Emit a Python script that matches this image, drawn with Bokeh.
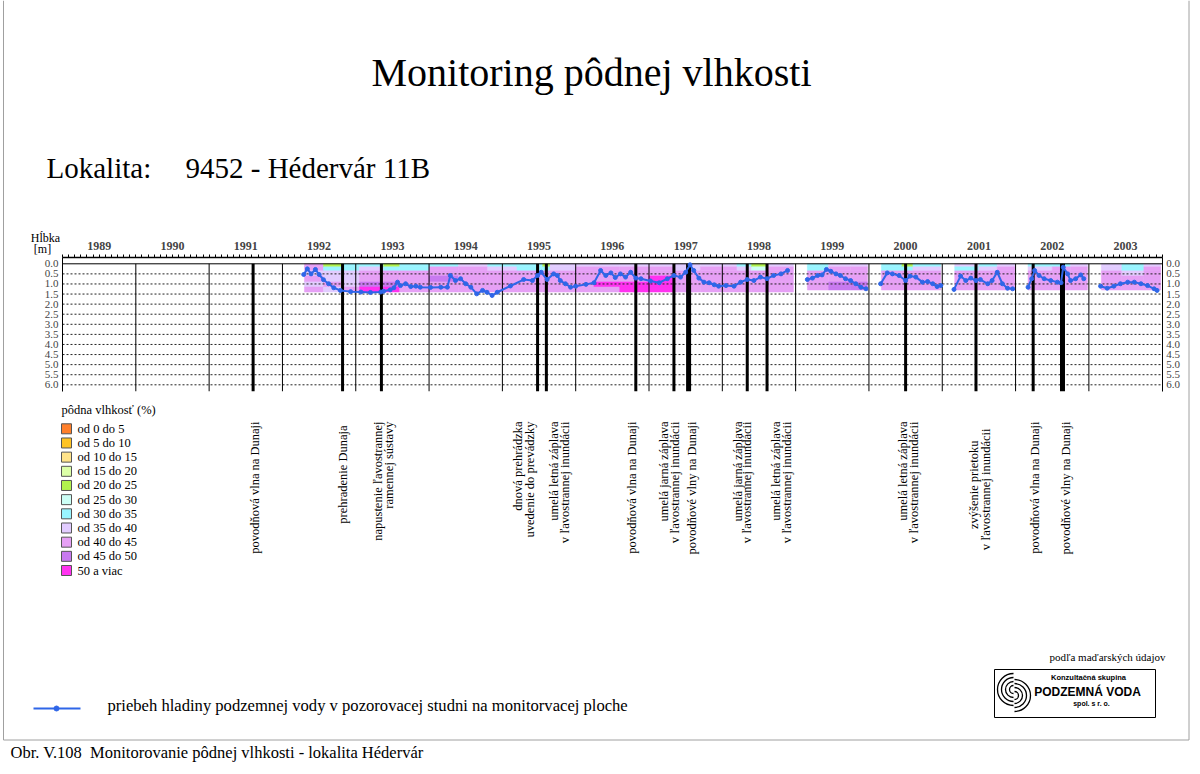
import math
from bokeh.plotting import figure
from bokeh.models import Range1d, LinearAxis, FixedTicker, CustomJSTickFormatter, PrintfTickFormatter
from bokeh.embed import file_html
from bokeh.resources import INLINE
from bokeh.core.properties import value

NaN = float("nan")

# ---------------- data ----------------
years = list(range(1989, 2004))
depth_ticks = [0.0, 0.5, 1.0, 1.5, 2.0, 2.5, 3.0, 3.5, 4.0, 4.5, 5.0, 5.5, 6.0]

moisture_labels = ["od 0 do 5", "od 5 do 10", "od 10 do 15", "od 15 do 20", "od 20 do 25",
                   "od 25 do 30", "od 30 do 35", "od 35 do 40", "od 40 do 45", "od 45 do 50",
                   "50 a viac"]
moisture_colors = ["#FF7F2A", "#FFC425", "#FFE38A", "#DCFFA8", "#B2F24E",
                   "#CCFFF6", "#99F5FF", "#E2CCFF", "#E6A0F5", "#C87AF0", "#FF33F0"]

# soil moisture profile: depth layer tops [m], measurement periods and class per layer
soil_layer_tops = [0.0, 0.15, 0.35, 0.6, 0.9, 1.15]
soil_col_start = [1992.30, 1992.56, 1992.82, 1993.05, 1993.38, 1993.60, 1994.00, 1994.40,
                  1994.80, 1995.20, 1995.55, 1995.65, 1996.00, 1996.25, 1996.60, 1997.00,
                  1997.35, 1997.70, 1998.20, 1998.40, 1998.60,
                  1999.16, 1999.45, 1999.75, 2000.17, 2000.45, 2000.60,
                  2001.17, 2001.50, 2001.75, 2002.17, 2002.50, 2002.75,
                  2003.17, 2003.45, 2003.75]
soil_col_end = [1992.56, 1992.82, 1993.05, 1993.38, 1993.60, 1994.00, 1994.40, 1994.80,
                1995.20, 1995.55, 1995.65, 1996.00, 1996.25, 1996.60, 1997.00, 1997.35,
                1997.70, 1998.20, 1998.40, 1998.60, 1998.97,
                1999.45, 1999.75, 1999.98, 2000.45, 2000.60, 2000.98,
                2001.50, 2001.75, 2001.99, 2002.50, 2002.75, 2002.98,
                2003.45, 2003.75, 2003.98]
soil_col_bottom = [1.4] * 21 + [1.3] * 15
soil_classes = [
    [8, 8, 7, 8, 7, 8], [4, 6, 7, 7, 8, 7], [6, 6, 7, 7, 7, 8], [6, 7, 8, 8, 9, 10],
    [4, 6, 8, 8, 9, 10], [6, 6, 8, 8, 8, 8], [6, 8, 8, 9, 8, 8], [7, 8, 8, 8, 8, 8],
    [6, 7, 8, 8, 8, 8], [6, 6, 8, 8, 8, 8], [4, 6, 8, 8, 8, 8], [7, 7, 8, 8, 8, 8],
    [7, 8, 8, 8, 8, 8], [7, 8, 8, 8, 10, 8], [7, 8, 8, 8, 10, 10], [7, 8, 8, 10, 10, 10],
    [7, 7, 8, 8, 8, 8], [7, 8, 8, 8, 8, 8], [6, 7, 8, 8, 8, 8], [4, 5, 8, 8, 8, 8],
    [7, 8, 8, 8, 8, 8],
    [6, 6, 8, 8, 8, 8], [7, 8, 8, 8, 9, 9], [7, 8, 8, 8, 9, 9],
    [6, 6, 8, 8, 8, 8], [4, 6, 8, 8, 8, 8], [6, 7, 8, 8, 8, 8],
    [7, 6, 8, 8, 8, 8], [6, 7, 8, 8, 8, 8], [7, 8, 8, 8, 8, 8],
    [6, 7, 8, 8, 8, 8], [6, 8, 8, 8, 8, 8], [7, 8, 8, 8, 8, 8],
    [7, 7, 8, 8, 8, 8], [6, 6, 7, 8, 8, 8], [7, 8, 8, 8, 8, 8],
]

# groundwater level depth [m] (NaN separates measurement seasons)
gw_year = [1992.29, 1992.34, 1992.39, 1992.45, 1992.50, 1992.56, 1992.63, 1992.70, 1992.79,
           1992.93, 1993.07, 1993.20, 1993.34, 1993.38, 1993.47, 1993.52, 1993.57, 1993.61,
           1993.68, 1993.75, 1993.82, 1993.88, 1994.02, 1994.16, 1994.25, 1994.29, 1994.36,
           1994.43, 1994.50, 1994.57, 1994.65, 1994.73, 1994.79, 1994.86, 1994.93, 1995.11,
           1995.29, 1995.41, 1995.48, 1995.53, 1995.61, 1995.70, 1995.75, 1995.79, 1995.86,
           1995.93, 1996.00, 1996.14, 1996.25, 1996.34, 1996.41, 1996.48, 1996.54, 1996.61,
           1996.68, 1996.75, 1996.82, 1996.89, 1997.02, 1997.14, 1997.25, 1997.34, 1997.43,
           1997.50, 1997.56, 1997.61, 1997.68, 1997.75, 1997.82, 1997.89, 1997.95, 1998.05,
           1998.16, 1998.25, 1998.34, 1998.43, 1998.52, 1998.61, 1998.70, 1998.80, 1998.89,
           NaN,
           1999.16, 1999.23, 1999.30, 1999.36, 1999.42, 1999.48, 1999.55, 1999.61, 1999.68,
           1999.75, 1999.82, 1999.89, 1999.96,
           NaN,
           2000.16, 2000.25, 2000.32, 2000.41, 2000.50, 2000.56, 2000.64, 2000.73, 2000.80,
           2000.87, 2000.93, 2000.98,
           NaN,
           2001.16, 2001.25, 2001.32, 2001.39, 2001.46, 2001.52, 2001.62, 2001.68, 2001.75,
           2001.82, 2001.89, 2001.96,
           NaN,
           2002.17, 2002.22, 2002.26, 2002.32, 2002.39, 2002.48, 2002.57, 2002.62, 2002.65,
           2002.71, 2002.75, 2002.82, 2002.89, 2002.93,
           NaN,
           2003.16, 2003.25, 2003.34, 2003.43, 2003.53, 2003.62, 2003.71, 2003.80, 2003.89,
           2003.93]
gw_depth = [0.53, 0.25, 0.50, 0.28, 0.53, 0.79, 0.99, 1.19, 1.32,
            1.38, 1.40, 1.42, 1.40, 1.36, 1.29, 1.19, 0.91, 1.08,
            0.99, 1.13, 1.11, 1.16, 1.17, 1.16, 1.16, 0.58, 0.83,
            0.74, 0.99, 1.16, 1.49, 1.32, 1.41, 1.57, 1.41, 1.10,
            0.78, 0.83, 0.58, 0.42, 0.78, 0.50, 0.58, 0.83, 0.99,
            1.16, 1.11, 1.02, 0.94, 0.33, 0.58, 0.45, 0.68, 0.50,
            0.66, 0.42, 0.71, 0.74, 0.85, 0.94, 0.74, 0.58, 0.66,
            0.42, 0.05, 0.33, 0.71, 0.91, 0.94, 1.04, 1.11, 1.08,
            1.11, 0.91, 0.78, 0.83, 0.66, 0.74, 0.58, 0.50, 0.33,
            NaN,
            0.78, 0.71, 0.58, 0.55, 0.28, 0.37, 0.50, 0.58, 0.74,
            0.83, 0.99, 1.16, 1.24,
            NaN,
            0.99, 0.45, 0.50, 0.58, 0.83, 0.61, 0.66, 0.91, 0.88,
            0.99, 1.13, 1.08,
            NaN,
            1.27, 0.61, 0.83, 0.71, 0.83, 0.78, 0.99, 0.83, 0.42,
            0.99, 1.21, 1.24,
            NaN,
            1.16, 0.74, 0.33, 0.58, 0.74, 0.83, 0.91, 0.94, 0.17,
            0.50, 0.83, 0.74, 0.55, 0.74,
            NaN,
            1.11, 1.21, 1.11, 0.99, 0.91, 0.91, 0.99, 1.08, 1.24,
            1.32]

# events
event_year = [1991.60, 1992.82, 1993.35, 1995.48, 1995.60, 1996.82, 1997.34, 1997.54,
              1998.34, 1998.61, 2000.50, 2001.46, 2002.24, 2002.64]
event_major = [0, 0, 0, 0, 0, 0, 0, 1, 0, 0, 0, 0, 0, 1]
event_label_text = ["povodňová vlna na Dunaji", "prehradenie Dunaja",
                    "napustenie ľavostrannej", "ramennej sústavy",
                    "dnová prehrádzka", "uvedenie do prevádzky",
                    "umelá letná záplava", "v ľavostrannej inundácii",
                    "povodňová vlna na Dunaji",
                    "umelá jarná záplava", "v ľavostrannej inundácii",
                    "povodňové vlny na Dunaji",
                    "umelá jarná záplava", "v ľavostrannej inundácii",
                    "umelá letná záplava", "v ľavostrannej inundácii",
                    "umelá letná záplava", "v ľavostrannej inundácii",
                    "zvýšenie prietoku", "v ľavostrannej inundácii",
                    "povodňová vlna na Dunaji", "povodňové vlny na Dunaji"]
event_label_year = [1991.63, 1992.82, 1993.30, 1993.46, 1995.21, 1995.37, 1995.70, 1995.85,
                    1996.77, 1997.21, 1997.36, 1997.59, 1998.21, 1998.34, 1998.73, 1998.88,
                    2000.47, 2000.62, 2001.43, 2001.59, 2002.27, 2002.69]

# ---------------- layout (page pixels) ----------------
W, H = 1192, 768
PX0, PY0 = 0, 0
X_1989, X_2004 = 62.0, 1161.7
Y_D0, Y_D6 = 263.3, 384.3
label_tops = [421, 425, 421, 421, 421, 421, 421, 421, 421, 421, 421, 421, 421, 421,
              421, 421, 421, 421, 440, 428, 421, 421]

ppy = (X_2004 - X_1989) / 15.0
x_start = 1989 - (X_1989 - PX0) / ppy
x_end = x_start + W / ppy
ppm = (Y_D6 - Y_D0) / 6.0
y_top = 0 - (Y_D0 - PY0) / ppm
y_bottom = y_top + H / ppm

SERIF = value("Liberation Serif")
SANS = value("Liberation Sans")
BLUE = "#2F66E8"
D_TOP, D_BOT = -0.3, 6.32

p = figure(width=W, height=H, x_range=Range1d(x_start, x_end), y_range=Range1d(y_bottom, y_top),
           x_axis_location=None, y_axis_location=None, toolbar_location=None,
           output_backend="svg", min_border=0, outline_line_color=None)
p.title.visible = False
p.grid.visible = False
p.extra_x_ranges = {"px": Range1d(PX0, PX0 + W)}
p.extra_y_ranges = {"py": Range1d(PY0 + H, PY0)}
PG = dict(x_range_name="px", y_range_name="py")

# axes
top_ax = LinearAxis(fixed_location=D_TOP, bounds=(1989, 2004),
                    ticker=FixedTicker(ticks=[y + 0.5 for y in years],
                                       minor_ticks=[1989 + k / 12.0 for k in range(15 * 12 + 1)]),
                    formatter=CustomJSTickFormatter(code="return String(Math.floor(tick));"),
                    major_tick_out=0, major_tick_in=0, minor_tick_out=3, minor_tick_in=0,
                    major_label_standoff=5, major_label_text_font="Liberation Serif",
                    major_label_text_font_style="bold", major_label_text_font_size="12px",
                    axis_line_color="black", axis_line_width=1.3)
p.add_layout(top_ax, "above")
for side, loc in (("left", 1989), ("right", 2004)):
    ax = LinearAxis(fixed_location=loc, bounds=(D_TOP, D_BOT),
                    ticker=FixedTicker(ticks=depth_ticks, minor_ticks=[]),
                    formatter=PrintfTickFormatter(format="%.1f"),
                    major_tick_out=0, major_tick_in=0, minor_tick_out=0, minor_tick_in=0,
                    major_label_standoff=4, major_label_text_font="Liberation Serif",
                    major_label_text_font_size="11px", axis_line_color="black")
    p.add_layout(ax, side)

# soil moisture cells
ql, qr, qt, qb, qc = [], [], [], [], []
for s, e, bot, cls in zip(soil_col_start, soil_col_end, soil_col_bottom, soil_classes):
    for i, c in enumerate(cls):
        ql.append(s)
        qr.append(e)
        qt.append(soil_layer_tops[i])
        qb.append(soil_layer_tops[i + 1] if i + 1 < len(soil_layer_tops) else bot)
        qc.append(moisture_colors[c])
p.quad(left=ql, right=qr, top=qt, bottom=qb, fill_color=qc, line_color=qc, line_width=0.5)

# grid lines
p.segment(x0=[1989], x1=[2004], y0=[0.0], y1=[0.0], line_color="black", line_width=1)
p.segment(x0=[1989] * 12, x1=[2004] * 12, y0=depth_ticks[1:], y1=depth_ticks[1:],
          line_color="#222222", line_width=1, line_dash="2 2")
p.segment(x0=years[1:], x1=years[1:], y0=[0.0] * 14, y1=[D_BOT] * 14,
          line_color="black", line_width=1)

# event lines
p.segment(x0=event_year, x1=event_year, y0=[0.0] * len(event_year), y1=[D_BOT] * len(event_year),
          line_color="black", line_width=[5 if m else 3 for m in event_major])

# groundwater
p.line(gw_year, gw_depth, line_color=BLUE, line_width=2)
p.scatter(gw_year, gw_depth, size=4, fill_color=BLUE, line_color=BLUE)

# event labels
p.text(x=event_label_year, y=label_tops, y_range_name="py", text=event_label_text,
       angle=math.pi / 2, text_align="right", text_baseline="middle",
       text_font=SERIF, text_font_size="12.5px", text_color="black")

# titles
p.text(x=[591], y=[72], text=["Monitoring pôdnej vlhkosti"], text_align="center",
       text_baseline="middle", text_font=SERIF, text_font_size="40px", text_color="black", **PG)
p.text(x=[46, 185], y=[167, 167], text=["Lokalita:", "9452 - Hédervár 11B"], text_align="left",
       text_baseline="middle", text_font=SERIF, text_font_size="29px", text_color="black", **PG)
p.text(x=[45, 42], y=[237, 248], text=["Hĺbka", "[m]"], text_align="center",
       text_baseline="middle", text_font=SERIF, text_font_size="12px", text_color="black", **PG)

# moisture legend
row_y = [428.3 + i * 14.17 for i in range(len(moisture_labels))]
p.text(x=[61], y=[409], text=["pôdna vlhkosť (%)"], text_align="left", text_baseline="middle",
       text_font=SERIF, text_font_size="12.5px", text_color="black", **PG)
p.rect(x=[66] * len(row_y), y=row_y, width=10, height=10, fill_color=moisture_colors,
       line_color="#555555", line_width=1, **PG)
p.text(x=[77] * len(row_y), y=row_y, text=moisture_labels, text_align="left",
       text_baseline="middle", text_font=SERIF, text_font_size="12.5px", text_color="black", **PG)

# groundwater legend
p.line(x=[33, 80], y=[708, 708], line_color=BLUE, line_width=2, **PG)
p.scatter(x=[56], y=[708], size=5, fill_color=BLUE, line_color=BLUE, **PG)
p.text(x=[107], y=[705], text=["priebeh hladiny podzemnej vody v pozorovacej studni na monitorvacej ploche"],
       text_align="left", text_baseline="middle", text_font=SERIF, text_font_size="16.6px",
       text_color="black", **PG)

# frame and caption
p.line(x=[3, 3, 1188.5, 1188.5], y=[0, 739.5, 739.5, 0], line_color="#A0A0A0", line_width=1, **PG)
p.text(x=[10], y=[752], text=["Obr. V.108\u00a0\u00a0Monitorovanie pôdnej vlhkosti - lokalita Hédervár"],
       text_align="left", text_baseline="middle", text_font=SERIF, text_font_size="16.5px",
       text_color="black", **PG)

# source note and logo
p.text(x=[1049], y=[656], text=["podľa maďarských údajov"], text_align="left",
       text_baseline="middle", text_font=SERIF, text_font_size="11px", text_color="black", **PG)
p.quad(left=[994], right=[1155], top=[669], bottom=[717], fill_color=None,
       line_color="black", line_width=1, **PG)
radii = [4, 8, 12, 16]
p.arc(x=[1013] * 4, y=[689] * 4, radius=radii, radius_units="screen",
      start_angle=math.pi / 2, end_angle=3 * math.pi / 2, line_color="black", line_width=1.3, **PG)
p.arc(x=[1014] * 4, y=[695] * 4, radius=radii, radius_units="screen",
      start_angle=-math.pi / 2, end_angle=math.pi / 2, line_color="black", line_width=1.3, **PG)
p.text(x=[1088], y=[677], text=["Konzultačná skupina"], text_align="center", text_baseline="middle",
       text_font=SANS, text_font_style="bold", text_font_size="7.5px", text_color="black", **PG)
p.text(x=[1087], y=[691], text=["PODZEMNÁ VODA"], text_align="center", text_baseline="middle",
       text_font=SANS, text_font_style="bold", text_font_size="12px", text_color="black", **PG)
p.text(x=[1091], y=[703], text=["spol. s r. o."], text_align="center", text_baseline="middle",
       text_font=SANS, text_font_style="bold", text_font_size="7px", text_color="black", **PG)

open("out.html", "w").write(file_html(p, INLINE))
